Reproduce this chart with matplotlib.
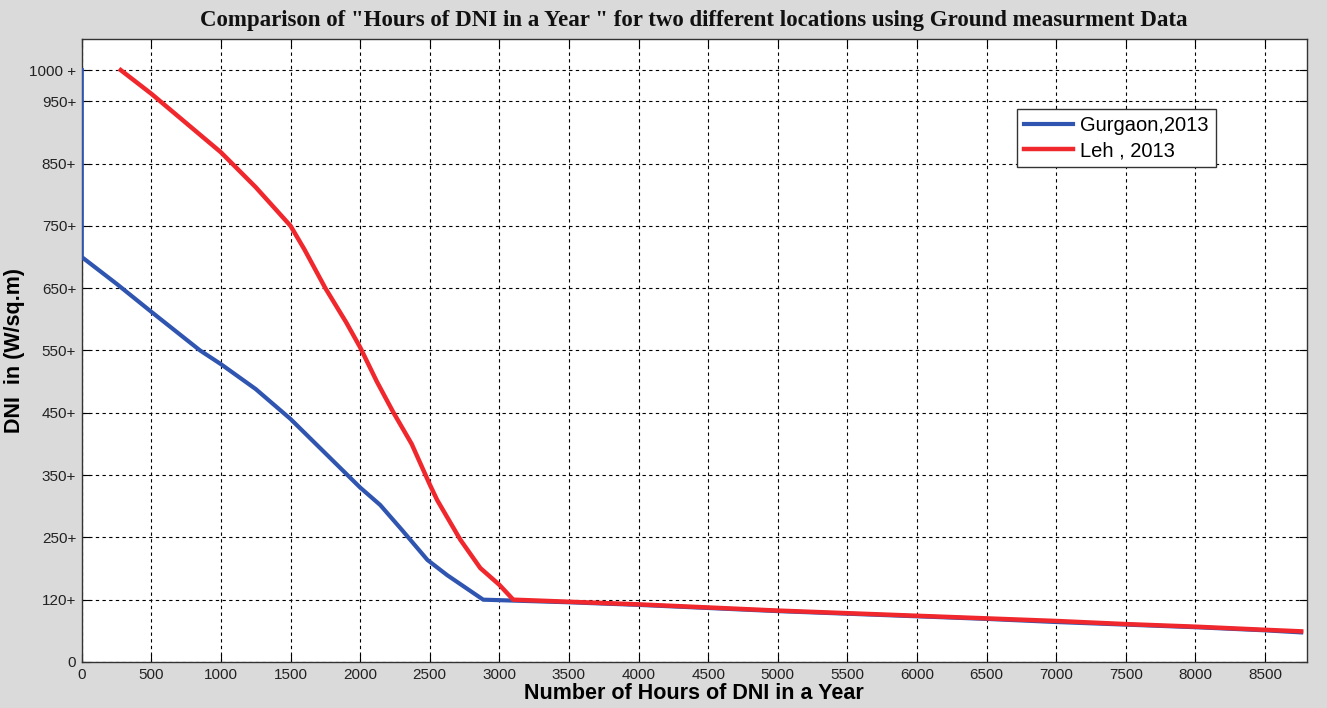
import numpy as np
import matplotlib
matplotlib.use("Agg")
import matplotlib.pyplot as plt

# y tick labels as printed on the chart, and where they sit on the axis
Y_LABEL_VALUES = [0, 120, 250, 350, 450, 550, 650, 750, 850, 950, 1000]
Y_TICK_TEXT = ["0", "120+", "250+", "350+", "450+", "550+", "650+", "750+",
               "850+", "950+", "1000 +"]
X_TICKS = list(range(0, 9000, 500))

# Gurgaon, 2013 (hours vs DNI)
gurgaon_hours = [0, 0, 250, 500, 850, 1000, 1250, 1500, 1750, 2000, 2144,
                 2300, 2483, 2626, 2884, 3500, 4000, 4500, 5000, 5500, 6000,
                 6500, 7000, 7500, 8000, 8500, 8760]
gurgaon_dni = [1000, 700, 657, 612, 550, 528, 488, 440, 385, 330, 302,
               262, 203, 171, 120, 115, 110, 104, 98, 93, 88,
               83, 77, 72, 67, 61, 57]

# Leh, 2013
leh_hours = [280, 500, 750, 1000, 1250, 1500, 1600, 1750, 1900, 2000, 2120,
             2240, 2370, 2500, 2553, 2720, 2863, 3000, 3100, 3500, 4000,
             4500, 5000, 5500, 6000, 6500, 7000, 7500, 8000, 8500, 8760]
leh_dni = [1000, 962, 915, 868, 812, 750, 712, 650, 595, 555, 500,
           450, 400, 335, 310, 245, 186, 151, 120, 116, 111,
           105, 99, 94, 89, 84, 79, 73, 68, 62, 59]

# the printed labels are not evenly spaced in value, but the gridlines are
_lab = np.array(Y_LABEL_VALUES + [1050], dtype=float)
_pos = np.array([0, 100, 200, 300, 400, 500, 600, 700, 800, 900, 950, 1000],
                dtype=float)


def fwd(v):
    return np.interp(v, _lab, _pos)


def inv(p):
    return np.interp(p, _pos, _lab)


fig = plt.figure(figsize=(13.27, 7.08), dpi=100, facecolor="#dadada")
ax = fig.add_axes([0.0616, 0.065, 0.9231, 0.88])
ax.set_facecolor("white")
ax.set_yscale("function", functions=(fwd, inv))

ax.plot(gurgaon_hours, gurgaon_dni, color="#2f55b0", linewidth=3,
        label="Gurgaon,2013", zorder=3, solid_joinstyle="round")
ax.plot(leh_hours, leh_dni, color="#f0282d", linewidth=3.2,
        label="Leh , 2013", zorder=4, solid_joinstyle="round")

ax.set_xlim(0, 8800)
ax.set_ylim(0, 1050)
ax.set_xticks(X_TICKS)
ax.set_xticklabels([str(t) for t in X_TICKS])
ax.set_yticks(Y_LABEL_VALUES)
ax.set_yticklabels(Y_TICK_TEXT)
ax.minorticks_off()

ax.grid(True, color="black", linestyle=(0, (3, 3)), linewidth=0.8)
ax.tick_params(direction="in", length=6, width=0.8, top=True, right=True,
               labelsize=11, labelcolor="#222222", pad=4)
for lbl in ax.get_xticklabels() + ax.get_yticklabels():
    lbl.set_family("Liberation Sans")
for spine in ax.spines.values():
    spine.set_color("#333333")
    spine.set_linewidth(1.0)

ax.set_title('Comparison of "Hours of DNI in a Year " for two different locations '
             'using Ground measurment Data',
             family="Liberation Serif", fontweight="bold", fontsize=16.5,
             color="#111111", pad=9)
ax.set_xlabel("Number of Hours of DNI in a Year", family="Liberation Sans",
              fontweight="bold", fontsize=15.5, labelpad=1)
ax.set_ylabel("DNI  in (W/sq.m)", family="Liberation Sans",
              fontweight="bold", fontsize=15.5, labelpad=3)

leg = ax.legend(loc="upper left", bbox_to_anchor=(0.7635, 0.8876),
                borderaxespad=0, fancybox=False, framealpha=1,
                edgecolor="#333333", handlelength=2.45, handletextpad=0.35,
                borderpad=0.35, labelspacing=0.3,
                prop={"family": "Liberation Sans", "size": 14.5})
leg.get_frame().set_linewidth(1.0)

fig.savefig("out.png", dpi=100, facecolor=fig.get_facecolor())
